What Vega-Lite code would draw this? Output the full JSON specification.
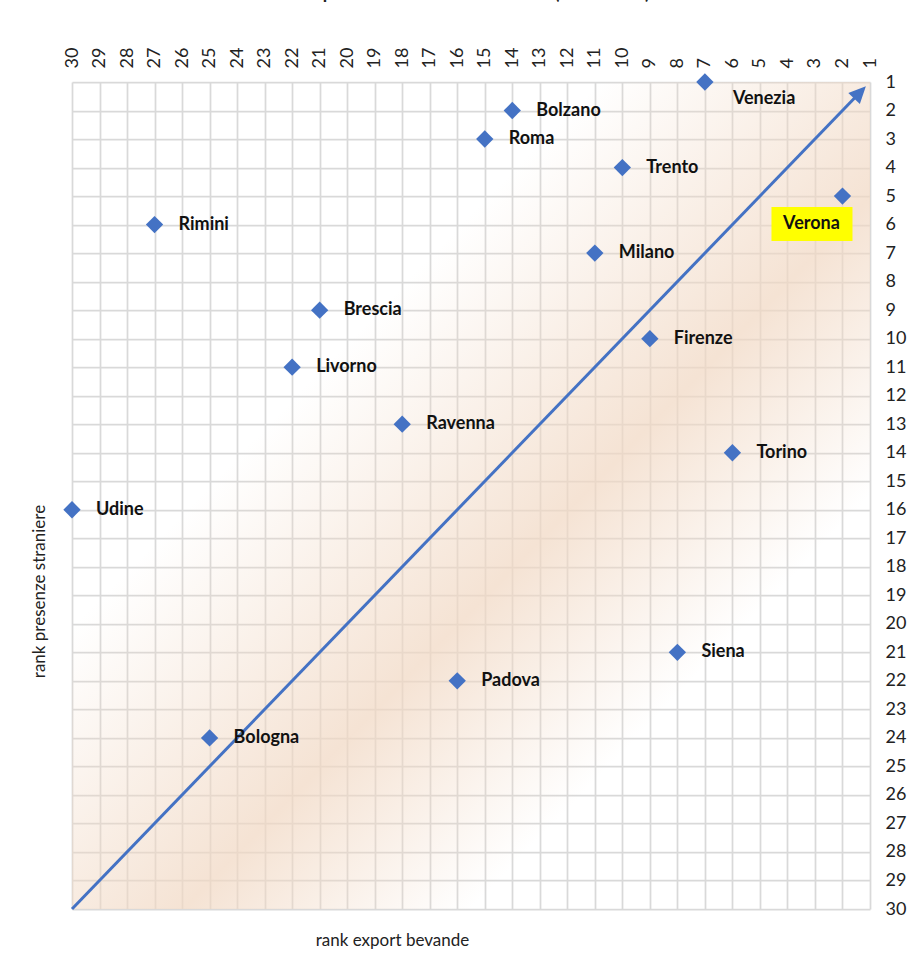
{
  "$schema": "https://vega.github.io/schema/vega-lite/v6.json",
  "width": 798,
  "height": 827,
  "autosize": {"type": "none"},
  "padding": {"left": 72, "top": 82, "right": 44, "bottom": 67},
  "background": "white",
  "config": {
    "view": {"stroke": null},
    "axis": {
      "values": [1,2,3,4,5,6,7,8,9,10,11,12,13,14,15,16,17,18,19,20,21,22,23,24,25,26,27,28,29,30],
      "tickCount": 30,
      "labelOverlap": false,
      "labelFlush": false,
      "labelFont": "Lato",
      "labelFontSize": 18,
      "labelColor": "#222222",
      "ticks": false,
      "domain": false,
      "grid": true,
      "gridColor": "#D9D9D9",
      "gridWidth": 1.75,
      "titleFont": "Lato",
      "titleFontSize": 17,
      "titleFontWeight": "normal",
      "titleColor": "#222222"
    }
  },
  "title": {
    "text": "e delle presenze turistiche straniere (anno 2022)",
    "font": "Lato",
    "fontSize": 18,
    "fontWeight": "bold",
    "color": "#222222",
    "anchor": "middle",
    "frame": "group",
    "baseline": "alphabetic",
    "dx": -13,
    "offset": 30
  },
  "datasets": {
    "cities": [
      {"city": "Venezia", "export": 7, "presenze": 1},
      {"city": "Bolzano", "export": 14, "presenze": 2},
      {"city": "Roma", "export": 15, "presenze": 3},
      {"city": "Trento", "export": 10, "presenze": 4},
      {"city": "Verona", "export": 2, "presenze": 5},
      {"city": "Rimini", "export": 27, "presenze": 6},
      {"city": "Milano", "export": 11, "presenze": 7},
      {"city": "Brescia", "export": 21, "presenze": 9},
      {"city": "Firenze", "export": 9, "presenze": 10},
      {"city": "Livorno", "export": 22, "presenze": 11},
      {"city": "Ravenna", "export": 18, "presenze": 13},
      {"city": "Torino", "export": 6, "presenze": 14},
      {"city": "Udine", "export": 30, "presenze": 16},
      {"city": "Siena", "export": 8, "presenze": 21},
      {"city": "Padova", "export": 16, "presenze": 22},
      {"city": "Bologna", "export": 25, "presenze": 24}
    ]
  },
  "data": {"name": "cities"},
  "layer": [
    {
      "data": {"values": [{}]},
      "mark": {
        "type": "rect",
        "stroke": null,
        "fill": {
          "gradient": "linear",
          "x1": 0, "y1": 0, "x2": 1, "y2": 1,
          "stops": [
            {"offset": 0, "color": "rgba(241,216,195,0)"},
            {"offset": 0.33, "color": "rgba(241,216,195,0)"},
            {"offset": 0.57, "color": "rgba(241,216,195,0.72)"},
            {"offset": 0.75, "color": "rgba(241,216,195,0)"},
            {"offset": 1, "color": "rgba(241,216,195,0)"}
          ]
        }
      },
      "encoding": {
        "x": {
          "datum": 30,
          "type": "quantitative",
          "scale": {"domain": [1, 30], "reverse": true, "nice": false, "zero": false},
          "axis": {
            "orient": "top",
            "values": [1,2,3,4,5,6,7,8,9,10,11,12,13,14,15,16,17,18,19,20,21,22,23,24,25,26,27,28,29,30],
            "tickCount": 30,
            "labelAngle": -90,
            "labelAlign": "left",
            "labelBaseline": "middle",
            "labelPadding": 14,
            "title": "rank export bevande",
            "titleAngle": 0,
            "titleAlign": "center",
            "titleBaseline": "middle",
            "titleX": 320,
            "titleY": 858
          }
        },
        "x2": {"datum": 1},
        "y": {
          "datum": 1,
          "type": "quantitative",
          "scale": {"domain": [1, 30], "reverse": true, "nice": false, "zero": false},
          "axis": {
            "orient": "right",
            "values": [1,2,3,4,5,6,7,8,9,10,11,12,13,14,15,16,17,18,19,20,21,22,23,24,25,26,27,28,29,30],
            "tickCount": 30,
            "labelAlign": "left",
            "labelBaseline": "middle",
            "labelPadding": 15,
            "title": "rank presenze straniere",
            "titleAngle": -90,
            "titleAlign": "center",
            "titleBaseline": "middle",
            "titleX": -831,
            "titleY": 509
          }
        },
        "y2": {"datum": 30}
      }
    },
    {
      "data": {"values": [{}]},
      "mark": {"type": "rule", "color": "#4472C4", "strokeWidth": 3},
      "encoding": {
        "x": {"datum": 30, "type": "quantitative"},
        "y": {"datum": 30, "type": "quantitative"},
        "x2": {"datum": 1.5},
        "y2": {"datum": 1.5}
      }
    },
    {
      "data": {"values": [{}]},
      "mark": {
        "type": "point",
        "shape": "M0,0L0.85,1.8L-0.85,1.8Z",
        "size": 356,
        "angle": 44,
        "filled": true,
        "opacity": 1,
        "color": "#4472C4"
      },
      "encoding": {
        "x": {"datum": 1.15, "type": "quantitative"},
        "y": {"datum": 1.15, "type": "quantitative"}
      }
    },
    {
      "mark": {
        "type": "point",
        "shape": "diamond",
        "size": 300,
        "filled": true,
        "opacity": 1,
        "color": "#4472C4"
      },
      "encoding": {
        "x": {"field": "export", "type": "quantitative"},
        "y": {"field": "presenze", "type": "quantitative"}
      }
    },
    {
      "transform": [{"filter": "datum.city !== 'Venezia' && datum.city !== 'Verona'"}],
      "mark": {
        "type": "text",
        "align": "left",
        "baseline": "middle",
        "dx": 24,
        "font": "Lato",
        "fontSize": 18,
        "fontWeight": "bold",
        "color": "#111111"
      },
      "encoding": {
        "x": {"field": "export", "type": "quantitative"},
        "y": {"field": "presenze", "type": "quantitative"},
        "text": {"field": "city"}
      }
    },
    {
      "transform": [{"filter": "datum.city === 'Venezia'"}],
      "mark": {
        "type": "text",
        "align": "left",
        "baseline": "middle",
        "dx": 28,
        "dy": 17,
        "font": "Lato",
        "fontSize": 18,
        "fontWeight": "bold",
        "color": "#111111"
      },
      "encoding": {
        "x": {"field": "export", "type": "quantitative"},
        "y": {"field": "presenze", "type": "quantitative"},
        "text": {"field": "city"}
      }
    },
    {
      "transform": [{"filter": "datum.city === 'Verona'"}],
      "mark": {
        "type": "point",
        "shape": "M-1,-0.42H1V0.42H-1Z",
        "size": 6561,
        "filled": true,
        "opacity": 1,
        "color": "#FFFF00",
        "xOffset": -30.5,
        "yOffset": 28
      },
      "encoding": {
        "x": {"field": "export", "type": "quantitative"},
        "y": {"field": "presenze", "type": "quantitative"}
      }
    },
    {
      "transform": [{"filter": "datum.city === 'Verona'"}],
      "mark": {
        "type": "text",
        "align": "center",
        "baseline": "middle",
        "dx": -31,
        "dy": 28,
        "font": "Lato",
        "fontSize": 18,
        "fontWeight": "bold",
        "color": "#111111"
      },
      "encoding": {
        "x": {"field": "export", "type": "quantitative"},
        "y": {"field": "presenze", "type": "quantitative"},
        "text": {"field": "city"}
      }
    }
  ]
}
